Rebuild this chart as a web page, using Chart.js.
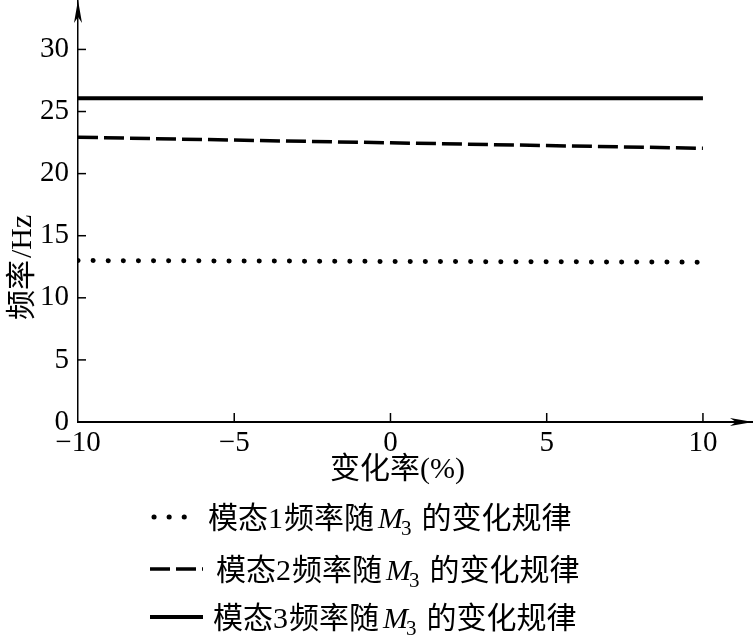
<!DOCTYPE html>
<html>
<head>
<meta charset="utf-8">
<script src="https://cdn.jsdelivr.net/npm/chart.js@4.4.1/dist/chart.umd.min.js"></script>
<style>
    html, body { margin: 0; padding: 0; background: #fff; }
    #wrap { width: 753px; height: 639px; }
</style>
</head>
<body>
<div id="wrap"><canvas id="freqChart" width="753" height="639"></canvas></div>
<script>
// ===== DATA =====
const xValues = [-10, -5, 0, 5, 10];
const mode1 = [13.0, 12.97, 12.93, 12.9, 12.87];
const mode2 = [22.93, 22.7, 22.48, 22.26, 22.04];
const mode3 = [26.07, 26.07, 26.07, 26.07, 26.07];
const xTicks = [-10, -5, 0, 5, 10];
const yTicks = [0, 5, 10, 15, 20, 25, 30];
const legendNames = ['模态1频率随', '模态2频率随', '模态3频率随'];

const CJK = '"Noto Sans CJK SC"';
const SERIF = '"Liberation Serif", "Times New Roman", serif';

function fmt(v) {
    return v < 0 ? '\u2212' + Math.abs(v) : String(v);
}

function toPoints(ys) {
    return xValues.map((x, i) => ({ x: x, y: ys[i] }));
}

// draw a row of text pieces with different fonts, left to right
function drawRich(ctx, x, y, parts) {
    parts.forEach(p => {
        ctx.font = p.font;
        ctx.fillText(p.t, x + (p.dx || 0), y + (p.dy || 0));
        x += ctx.measureText(p.t).width + (p.dx || 0) + (p.gap || 0);
    });
}

const lineStyles = [
    { dash: [0.1, 15], width: 5, cap: 'round' },
    { dash: [20, 6], width: 3.5, cap: 'butt' },
    { dash: [], width: 4, cap: 'butt' }
];

// ===== AXIS DECOR: inner ticks, arrows, titles, legend =====
const decor = {
    id: 'decor',
    afterDraw(chart) {
        const ctx = chart.ctx;
        const xs = chart.scales.x, ys = chart.scales.y;
        const area = chart.chartArea;
        const x0 = xs.getPixelForValue(-10);
        const y0 = ys.getPixelForValue(0);
        ctx.save();
        ctx.strokeStyle = '#000';
        ctx.fillStyle = '#000';
        ctx.lineWidth = 1.5;

        // inner ticks
        xTicks.forEach(v => {
            if (v === -10) return;
            const px = xs.getPixelForValue(v);
            ctx.beginPath(); ctx.moveTo(px, y0); ctx.lineTo(px, y0 - 9); ctx.stroke();
        });
        yTicks.forEach(v => {
            if (v === 0) return;
            const py = ys.getPixelForValue(v);
            ctx.beginPath(); ctx.moveTo(x0, py); ctx.lineTo(x0 + 8, py); ctx.stroke();
        });

        // arrows
        ctx.beginPath();
        ctx.moveTo(x0, area.top - 1);
        ctx.lineTo(x0 - 4, area.top + 22);
        ctx.lineTo(x0, area.top + 16);
        ctx.lineTo(x0 + 4, area.top + 22);
        ctx.closePath(); ctx.fill();
        ctx.beginPath();
        ctx.moveTo(area.right + 1, y0);
        ctx.lineTo(area.right - 22, y0 - 4);
        ctx.lineTo(area.right - 16, y0);
        ctx.lineTo(area.right - 22, y0 + 4);
        ctx.closePath(); ctx.fill();

        // axis titles
        ctx.textBaseline = 'alphabetic';
        ctx.textAlign = 'left';
        drawRich(ctx, 330, 478, [
            { t: '变化率', font: '30px ' + CJK },
            { t: '(%)', font: '30px ' + SERIF }
        ]);
        ctx.save();
        ctx.translate(31, 320);
        ctx.rotate(-Math.PI / 2);
        drawRich(ctx, 0, 0, [
            { t: '频率', font: '30px ' + CJK, gap: 2 },
            { t: '/Hz', font: '30px ' + SERIF }
        ]);
        ctx.restore();

        // legend
        const rows = [517, 569, 617];
        const textX = [208, 216, 213];
        rows.forEach((ry, i) => {
            const st = lineStyles[i];
            ctx.save();
            ctx.lineWidth = st.width;
            ctx.lineCap = st.cap;
            ctx.setLineDash(st.dash);
            ctx.beginPath();
            if (i === 0) { ctx.moveTo(154, ry); ctx.lineTo(197, ry); }
            else { ctx.moveTo(150, ry); ctx.lineTo(203, ry); }
            ctx.stroke();
            ctx.restore();
            const name = legendNames[i];
            drawRich(ctx, textX[i], ry + 11, [
                { t: name.slice(0, 2), font: '30px ' + CJK },
                { t: name.slice(2, 3), font: '30px ' + SERIF, gap: 1 },
                { t: name.slice(3), font: '30px ' + CJK, gap: 4 },
                { t: 'M', font: 'italic 30px ' + SERIF },
                { t: '3', font: '21px ' + SERIF, dy: 7, dx: -2, gap: 10 },
                { t: '的变化规律', font: '30px ' + CJK }
            ]);
        });
        ctx.restore();
    }
};

// ===== CHART =====
const ctx = document.getElementById('freqChart');

function dataset(label, ys, st) {
    return {
        label: label,
        data: toPoints(ys),
        borderColor: '#000',
        borderWidth: st.width,
        borderDash: st.dash,
        borderCapStyle: st.cap,
        pointRadius: 0,
        fill: false,
        tension: 0
    };
}

new Chart(ctx, {
    type: 'line',
    data: {
        datasets: [
            dataset(legendNames[0] + 'M3的变化规律', mode1, lineStyles[0]),
            dataset(legendNames[1] + 'M3的变化规律', mode2, lineStyles[1]),
            dataset(legendNames[2] + 'M3的变化规律', mode3, lineStyles[2])
        ]
    },
    options: {
        responsive: false,
        animation: false,
        devicePixelRatio: 1,
        layout: { padding: { left: 0, right: 1, top: 1, bottom: 0 } },
        plugins: {
            legend: { display: false },
            tooltip: { enabled: false }
        },
        scales: {
            x: {
                type: 'linear',
                min: -10,
                max: 11.57,
                afterBuildTicks: s => { s.ticks = xTicks.map(v => ({ value: v })); },
                afterFit: s => {
                    s.height = 639 - 422;
                    s.paddingLeft = 0; s.paddingRight = 0;
                },
                grid: { drawOnChartArea: false, drawTicks: false },
                border: { color: '#000', width: 2 },
                ticks: {
                    color: '#000',
                    padding: 4,
                    maxRotation: 0,
                    font: { family: SERIF, size: 29 },
                    callback: v => fmt(v)
                }
            },
            y: {
                type: 'linear',
                min: 0,
                max: 33.9,
                afterBuildTicks: s => { s.ticks = yTicks.map(v => ({ value: v })); },
                afterFit: s => {
                    s.width = 78;
                    s.paddingTop = 0; s.paddingBottom = 0;
                },
                grid: { drawOnChartArea: false, drawTicks: false },
                border: { color: '#000', width: 1.5 },
                ticks: {
                    color: '#000',
                    padding: 9,
                    font: { family: SERIF, size: 29 },
                    callback: v => fmt(v)
                }
            }
        }
    },
    plugins: [decor]
});
</script>
</body>
</html>
